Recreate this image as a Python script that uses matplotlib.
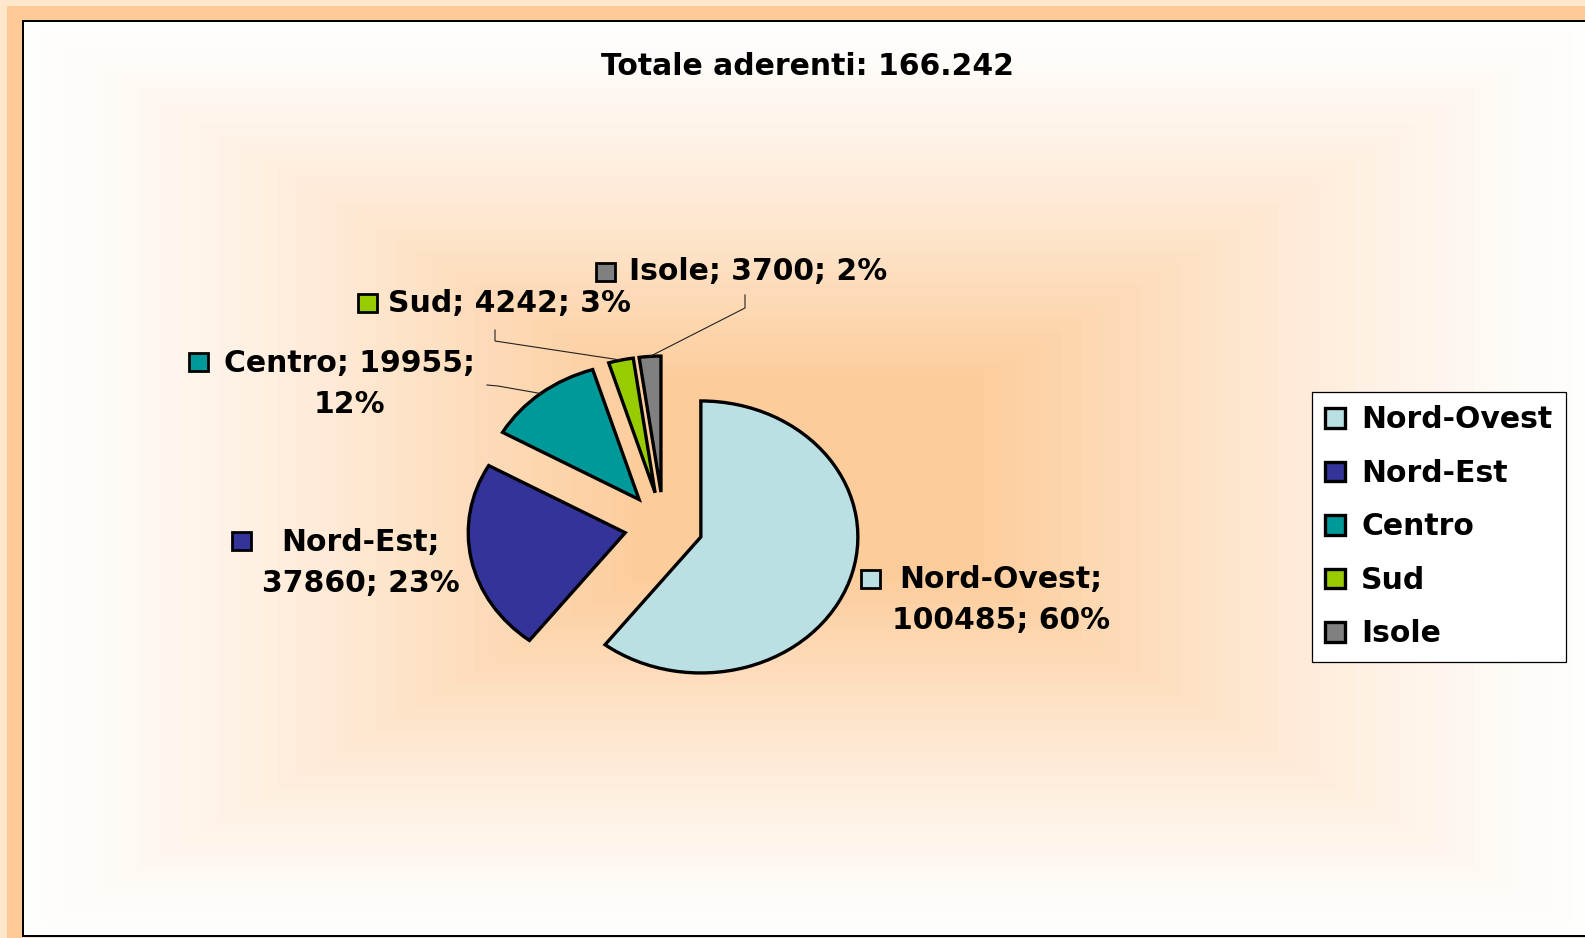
import numpy as np
import matplotlib
matplotlib.use("Agg")
import matplotlib.pyplot as plt
from matplotlib.patches import Rectangle

# data
regions = ["Nord-Ovest", "Nord-Est", "Centro", "Sud", "Isole"]
members = [100485, 37860, 19955, 4242, 3700]
colors = ["#BBE0E3", "#333399", "#009999", "#99CC00", "#808080"]
title = "Totale aderenti: 166.242"

total = sum(members)
percents = [round(100 * v / total) for v in members]

W, H = 1585, 938
FONT = dict(family="DejaVu Sans", weight="bold", size=21.5)

fig = plt.figure(figsize=(W / 100, H / 100), dpi=100, facecolor="white")

# background: orange frame + rectangular "from center" gradient
yy, xx = np.mgrid[0:H, 0:W]
t = np.maximum(np.abs(xx - 807) / 784, np.abs(yy - 478) / 458)
t = np.floor(np.clip(t, 0, 1) * 40) / 40
f = np.clip((1 - t) / 0.8, 0, 1) ** 1.3
orange = np.array([253, 204, 155]) / 255
bg = 1 - f[..., None] * (1 - orange)
band = np.array([255, 202, 150]) / 255
light = np.array([255, 231, 204]) / 255
bg[:20, :] = band
bg[:, :22] = band
bg[:6, :] = light
bg[:, :7] = light
bg[937:, 22:] = light
bg[20:937, 22:24] = 0
bg[20:22, 22:] = 0
bg[935:937, 22:] = 0
fig.figimage(bg, xo=0, yo=0, origin="upper", zorder=-10)

# pie axes, scaled so the pie is a bit wider than tall
rx, ry = 157, 136
cx, cy = 663.7, 526
pa = fig.add_axes([0, 0, 1, 1])
wedges, _ = pa.pie(members, colors=colors, explode=[0.25] * len(members),
                   startangle=90, counterclock=False,
                   wedgeprops=dict(edgecolor="black", linewidth=2.4,
                                   joinstyle="miter"))
pa.set_aspect("auto")
pa.set_xlim(-cx / rx, (W - cx) / rx)
pa.set_ylim(-(H - cy) / ry, cy / ry)
pa.axis("off")
pa.patch.set_alpha(0)

# overlay in pixel coordinates (y down) for labels
ov = fig.add_axes([0, 0, 1, 1])
ov.set_xlim(0, W)
ov.set_ylim(H, 0)
ov.axis("off")
ov.patch.set_alpha(0)

ov.text(807.5, 66.5, title, ha="center", va="center", **FONT)


def arc_point(w):
    # point on the outer edge at the wedge's middle angle, in overlay pixels
    a = np.deg2rad((w.theta1 + w.theta2) / 2)
    x, y = w.center[0] + w.r * np.cos(a), w.center[1] + w.r * np.sin(a)
    px, py = pa.transData.transform((x, y))
    return px, H - py


# label layout: key square centre, text centre, line breaks, leader start
label_layout = [
    ((870, 579), (1001, 600), True, None),
    ((241.5, 541), (361, 563), True, None),
    ((198, 362), (349, 384), "Centro", [(487, 385), (498, 386)]),
    ((367, 303), (509.5, 303), False, [(495, 330), (495, 341)]),
    ((605.5, 272), (758, 272), False, [(745, 295), (745, 308)]),
]

for i, (key, pos, split, leader) in enumerate(label_layout):
    if split is True:
        txt = f"{regions[i]};\n{members[i]}; {percents[i]}%"
    elif split == "Centro":
        txt = f"{regions[i]}; {members[i]};\n{percents[i]}%"
    else:
        txt = f"{regions[i]}; {members[i]}; {percents[i]}%"
    ov.text(pos[0], pos[1], txt, ha="center", va="center",
            multialignment="center", linespacing=1.55, **FONT)
    ov.add_patch(Rectangle((key[0] - 9.5, key[1] - 9), 19, 18,
                           facecolor=colors[i], edgecolor="black",
                           linewidth=2.0))
    if leader:
        px, py = arc_point(wedges[i])
        xs = [p[0] for p in leader] + [px]
        ys = [p[1] for p in leader] + [py]
        ov.plot(xs, ys, color="#222222", linewidth=0.8)

leg = fig.legend(wedges, regions, loc="upper left",
                 bbox_to_anchor=(1312 / W, 1 - 392 / H),
                 prop=FONT, frameon=True, fancybox=False, framealpha=1,
                 edgecolor="black", borderaxespad=0, borderpad=0.45,
                 handlelength=0.65, handleheight=0.62, handletextpad=0.55,
                 labelspacing=0.82)
leg.get_frame().set_linewidth(0.9)

fig.savefig("out.png", dpi=100)
